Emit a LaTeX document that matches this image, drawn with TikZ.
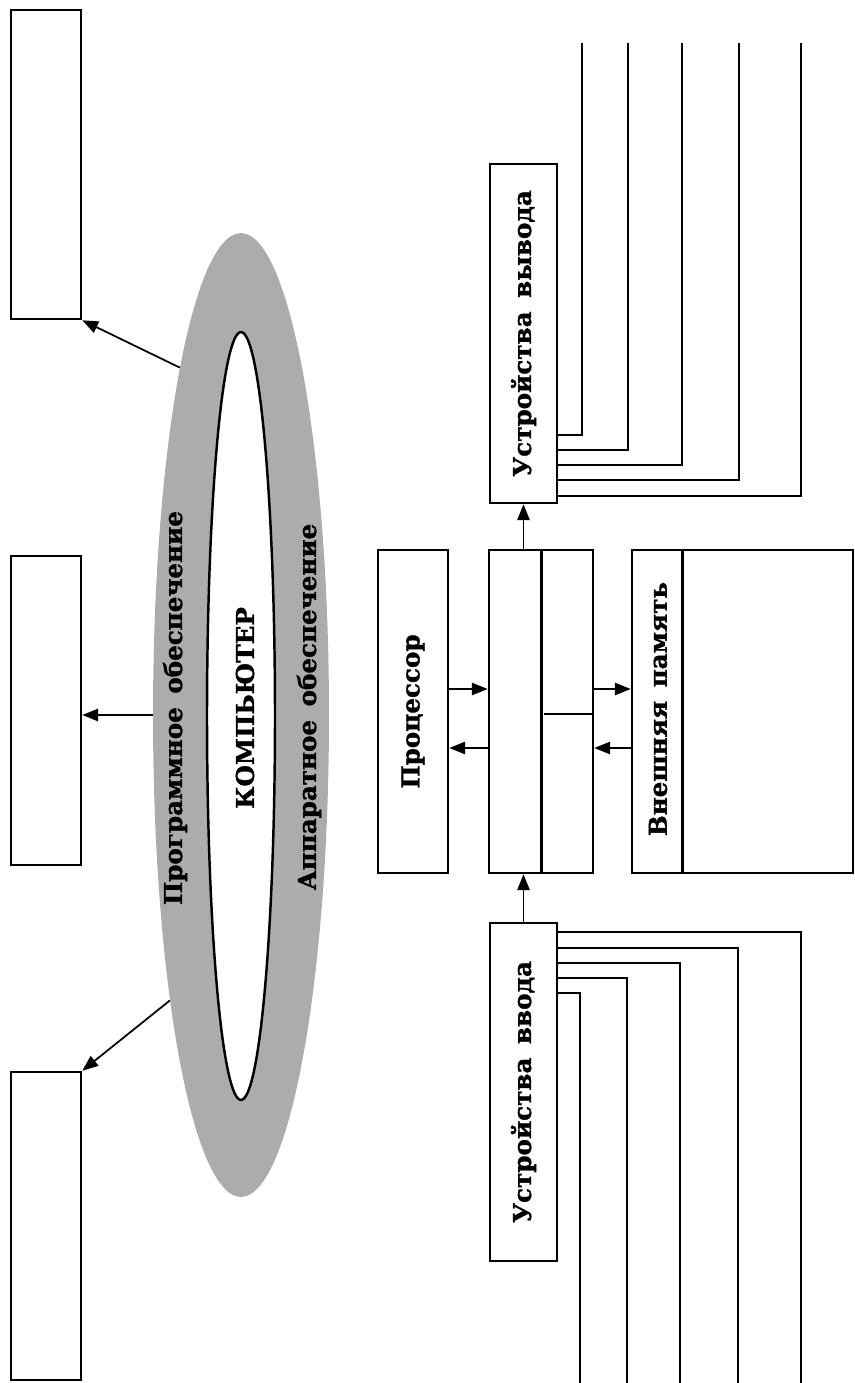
\documentclass[tikz,border=0pt]{standalone}
\usepackage{fontspec}
\setmainfont{DejaVu Serif}[BoldFeatures={FakeBold=1.3}]
\usepackage{xcolor}
\definecolor{ringgray}{RGB}{172,172,172}
\usepackage{tikz}
\usetikzlibrary{arrows.meta, positioning, shapes.geometric}
\newcommand{\wgap}{\hspace{0.55em}}

\begin{document}
\begin{tikzpicture}[x=0.02cm, y=-0.02cm,
  blk/.style={draw, line width=1.5pt, inner sep=0pt},
  lbl/.style={font=\fontsize{14}{16}\selectfont\bfseries, rotate=90, inner sep=0pt},
  arr/.style={line width=1pt, -{Triangle[length=9pt,width=7pt]}},
  wire/.style={line width=1.1pt}]
  \useasboundingbox (0,0) rectangle (855,1383);

  % Ring: software / hardware around the computer
  \node[ellipse, fill=ringgray, inner sep=0pt, minimum width=3.52cm, minimum height=19.28cm] (ring) at (241,715) {};
  \node[ellipse, draw, fill=white, line width=1.4pt, inner sep=0pt, minimum width=1.36cm, minimum height=15.36cm] (core) at (241,716) {};
  \node[lbl] (soft) at (175,708) {Программное\wgap обеспечение};
  \node[lbl] (comp) at (245,708) {КОМПЬЮТЕР};
  \node[lbl] (hard) at (309,707) {Аппаратное\wgap обеспечение};

  % Empty boxes on the left
  \node[blk, minimum width=1.4cm, minimum height=6.18cm] (boxA) at (46,164.5) {};
  \node[blk, minimum width=1.4cm, minimum height=6.18cm] (boxB) at (46,710.5) {};
  \node[blk, minimum width=1.4cm, minimum height=6.16cm] (boxC) at (46,1226) {};
  \draw[arr] (ring.100) -- (boxA.south east);
  \draw[arr] (ring.180) -- (ring.180 -| boxB.east);
  \draw[arr] (ring.256) -- (boxC.north east);

  % Processor
  \node[blk, minimum width=1.4cm, minimum height=6.46cm] (cpu) at (413,711.5) {};
  \node[lbl] (cpu-t) at (cpu) {Процессор};

  % Main memory (split box)
  \node[blk, minimum width=2.08cm, minimum height=6.46cm] (ram) at (541,711.5) {};
  \draw[line width=1.5pt] (ram.north west) ++(54,0) -- ++(0,323);
  \draw[line width=1.5pt] (ram.east) ++(0,2.5) -- ++(-50,0);

  % External memory
  \node[blk, minimum width=4.42cm, minimum height=6.46cm] (ext) at (742.5,711.5) {};
  \draw[line width=1.5pt] (ext.north west) ++(52,0) -- ++(0,323);
  \node[lbl] (ext-t) at (658,709) {Внешняя\wgap память};

  % Output and input devices
  \node[blk, minimum width=1.34cm, minimum height=6.78cm] (outdev) at (523.5,333.5) {};
  \node[lbl] (out-t) at (outdev) {Устройства\wgap вывода};
  \node[blk, minimum width=1.34cm, minimum height=6.76cm] (indev) at (523.5,1092) {};
  \node[lbl] (in-t) at (indev) {Устройства\wgap ввода};

  % Arrows between the units
  \draw[arr] (outdev.south |- ram.north) -- (outdev.south);
  \draw[arr] (indev.north) -- (indev.north |- ram.south);
  \draw[arr] (cpu.east |- 0,689) -- (ram.west |- 0,689);
  \draw[arr] (ram.west |- 0,748) -- (cpu.east |- 0,748);
  \draw[arr] (ram.east |- 0,689) -- (ext.west |- 0,689);
  \draw[arr] (ext.west |- 0,748) -- (ram.east |- 0,748);

  % Device lines
  \foreach \yy/\xx in {435/582, 450/628, 465/682, 480/739, 496/801}
    \draw[wire] (outdev.east |- 0,\yy) -- (\xx,\yy) -- (\xx,43);
  \foreach \yy/\xx in {932/801, 948/738, 963/680, 978/627, 993/580}
    \draw[wire] (indev.east |- 0,\yy) -- (\xx,\yy) -- (\xx,1383);
\end{tikzpicture}
\end{document}
